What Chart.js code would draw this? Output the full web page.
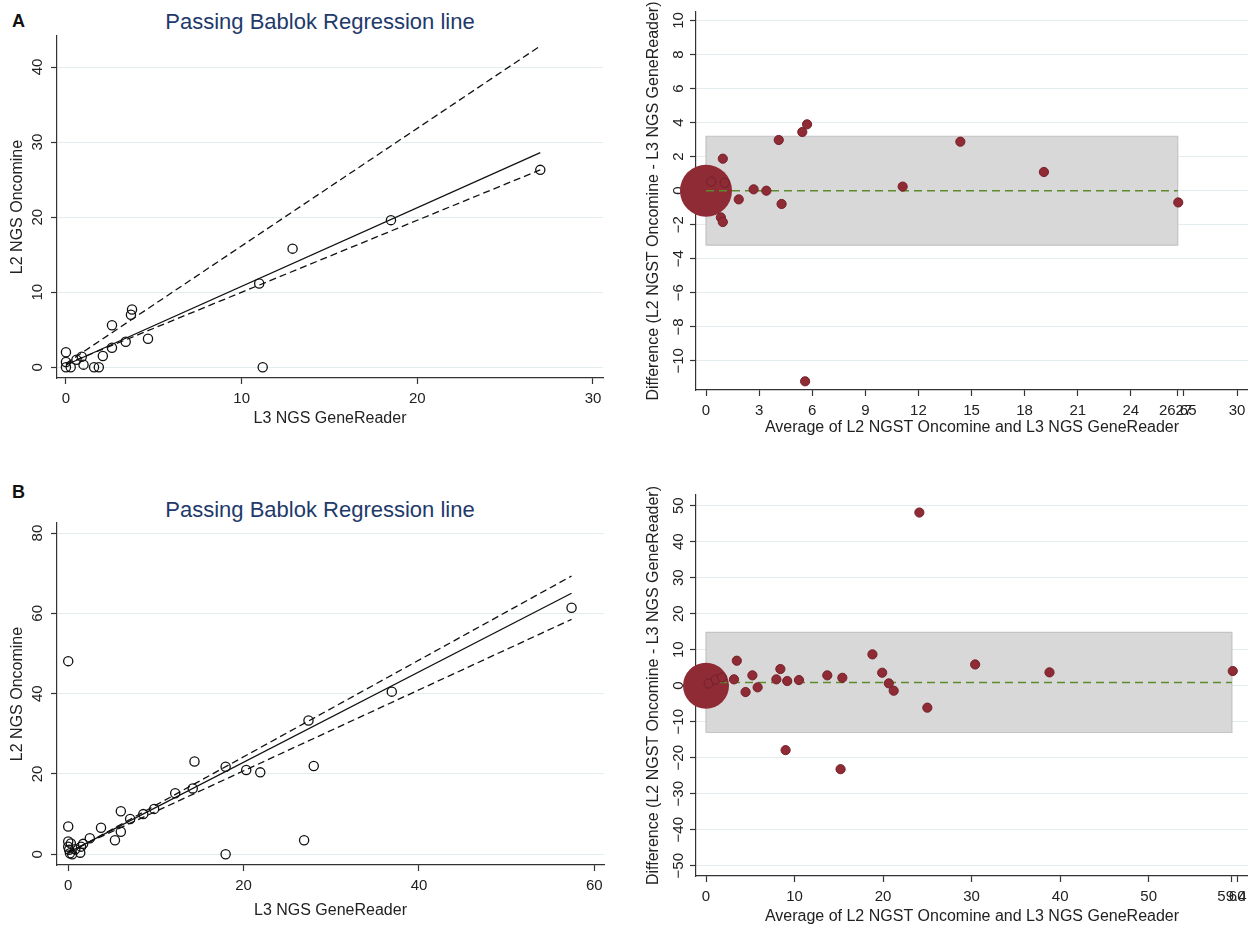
<!DOCTYPE html>
<html>
<head>
<meta charset="utf-8">
<script src="https://cdn.jsdelivr.net/npm/chart.js@4.4.1/dist/chart.umd.min.js"></script>
<style>
    html, body { margin: 0; padding: 0; background: #fff; }
    body { width: 1248px; height: 925px; position: relative; overflow: hidden; font-family: 'Liberation Sans', Arial, sans-serif; }
    canvas { position: absolute; }
    .letter { position: absolute; left: 12px; font-weight: bold; font-size: 18px; color: #111; }
    .title { position: absolute; left: 10px; width: 620px; text-align: center; font-size: 22px; color: #1e3a6b; }
</style>
</head>
<body>
<div class="letter" style="top:11px">A</div>
<div class="title" style="top:9px">Passing Bablok Regression line</div>
<canvas id="fitA" width="620" height="427" style="left:0;top:0"></canvas>
<canvas id="baA" width="608" height="436" style="left:640px;top:0"></canvas>

<div class="letter" style="top:482px">B</div>
<div class="title" style="top:497px">Passing Bablok Regression line</div>
<canvas id="fitB" width="620" height="439" style="left:0;top:480px"></canvas>
<canvas id="baB" width="608" height="445" style="left:640px;top:480px"></canvas>

<script>
// ---- panel A: L3 GeneReader (x) vs L2 Oncomine (y)
const fitAX = [0, 0, 0, 0.27, 0.6, 0.9, 1.0, 1.6, 1.87, 2.1, 2.62, 2.62, 3.4, 3.7, 3.76, 4.67, 11.0, 11.2, 12.9, 18.5, 27.0];
const fitAY = [2.0, 0.7, 0, 0, 1.0, 1.4, 0.35, 0, 0, 1.5, 5.6, 2.6, 3.4, 7.0, 7.7, 3.8, 11.15, 0, 15.8, 19.6, 26.3];
const regAX = [0, 27.0];
const regAFit = [0.3, 28.6];
const regAUpper = [0.5, 42.8];
const regALower = [0.4, 26.3];
const fitAXTicks = [0, 10, 20, 30];
const fitAYTicks = [0, 10, 20, 30, 40];

// ---- panel A: Bland-Altman
const baAX = [0.95, 0.29, 1.06, 0.84, 0.95, 1.85, 2.69, 3.41, 4.11, 4.27, 5.44, 5.71, 5.6, 11.11, 14.37, 19.09, 26.68];
const baAY = [1.88, 0.53, 0.47, -1.57, -1.84, -0.51, 0.08, 0, 2.98, -0.78, 3.45, 3.9, -11.2, 0.24, 2.88, 1.1, -0.69];
const baABubble = [[0, 0]];
const baARange = [0, 26.65];
const baAMean = 0;
const baALimits = [-3.2, 3.2];
const baAXTicks = [0, 3, 6, 9, 12, 15, 18, 21, 24, 26.65, 27, 30];
const baAYTicks = [-10, -8, -6, -4, -2, 0, 2, 4, 6, 8, 10];

// ---- panel B: L3 GeneReader (x) vs L2 Oncomine (y)
const fitBX = [0, 0, 0, 0.3, 0, 0.1, 0.2, 0.45, 0.8, 1.37, 1.46, 1.7, 2.46, 3.74, 5.33, 6.0, 6.0, 7.06, 8.56, 9.8, 12.2, 14.2, 14.4, 17.95, 17.95, 20.3, 21.9, 26.9, 27.4, 28.0, 36.9, 57.4];
const fitBY = [48.1, 6.9, 3.2, 2.7, 1.9, 1.1, 0.25, 0, 1.25, 0.4, 1.9, 2.6, 4.0, 6.6, 3.5, 5.6, 10.7, 8.8, 10.0, 11.3, 15.2, 16.4, 23.1, 21.8, 0, 21.0, 20.4, 3.5, 33.3, 22.0, 40.5, 61.4];
const regBX = [0, 57.4];
const regBFit = [0.4, 65.0];
const regBUpper = [0.2, 69.3];
const regBLower = [0.6, 58.5];
const fitBXTicks = [0, 20, 40, 60];
const fitBYTicks = [0, 20, 40, 60, 80];

// ---- panel B: Bland-Altman
const baBX = [24.1, 3.48, 3.16, 4.47, 5.24, 5.83, 7.95, 8.4, 9.17, 8.99, 10.5, 13.7, 15.4, 15.2, 18.8, 19.9, 20.65, 21.2, 25.0, 30.4, 38.8, 59.5, 0.3, 1.1, 1.8];
const baBY = [48.1, 6.94, 1.76, -1.76, 2.87, -0.46, 1.76, 4.63, 1.3, -17.9, 1.57, 2.87, 2.2, -23.2, 8.7, 3.6, 0.65, -1.39, -6.1, 5.9, 3.7, 4.07, 0.6, 1.7, 2.3];
const baBBubble = [[0, 0]];
const baBRange = [0, 59.4];
const baBMean = 0.9;
const baBLimits = [-13.0, 14.8];
const baBXTicks = [0, 10, 20, 30, 40, 50, 59.4, 60];
const baBYTicks = [-50, -40, -30, -20, -10, 0, 10, 20, 30, 40, 50];

Chart.defaults.font.family = "'Liberation Sans', Arial, sans-serif";
Chart.defaults.color = '#222';

const AXIS = '#333';
const DOT = '#8e2b35';
const minus = (v) => String(v).replace('-', '\u2212');
const points = (xs, ys) => xs.map((x, i) => ({ x, y: ys[i] }));

// stata-like fixed tick lists
const fixTicks = (ticks) => (scale) => {
    scale.ticks = ticks.map((value) => ({ value }));
};

const xAxis = (min, max, ticks, text, height) => ({
    type: 'linear',
    min,
    max,
    afterBuildTicks: fixTicks(ticks),
    afterFit: (s) => {
        s.height = height;
        s.paddingLeft = s.paddingRight = s.paddingTop = s.paddingBottom = 0;
    },
    border: { color: AXIS, width: 1.2 },
    grid: { drawOnChartArea: false, tickLength: 6, tickColor: AXIS, tickWidth: 1.2 },
    ticks: { autoSkip: false, minRotation: 0, maxRotation: 0, padding: 6, font: { size: 15 }, callback: minus },
    title: { display: true, text, padding: 0, font: { size: 16, lineHeight: 1 } },
});

const yAxis = (min, max, ticks, text, width, pad) => ({
    type: 'linear',
    min,
    max,
    afterBuildTicks: fixTicks(ticks),
    afterFit: (s) => {
        s.width = width;
        s.paddingLeft = s.paddingRight = s.paddingTop = s.paddingBottom = 0;
    },
    border: { color: AXIS, width: 1.2 },
    grid: { color: '#e3ecee', lineWidth: 1, tickLength: 6, tickColor: AXIS, tickWidth: 1.2 },
    ticks: { autoSkip: false, minRotation: 90, maxRotation: 90, crossAlign: 'center', padding: pad, font: { size: 15 }, callback: minus },
    title: { display: true, text, padding: 0, font: { size: 16, lineHeight: 1 } },
});

const baseOptions = (padding, x, y) => ({
    responsive: false,
    animation: false,
    events: [],
    layout: { padding, autoPadding: false },
    plugins: { legend: { display: false }, tooltip: { enabled: false } },
    scales: { x, y },
});

const makeFitChart = (id, xs, ys, regX, regFit, regUp, regLo, padding, x, y) => {
    const line = (data, dash) => ({
        data: points(regX, data),
        borderColor: '#111',
        borderWidth: 1.3,
        borderDash: dash,
        pointRadius: 0,
    });
    new Chart(document.getElementById(id), {
        type: 'line',
        data: {
            datasets: [
                {
                    data: points(xs, ys),
                    showLine: false,
                    pointRadius: 4.6,
                    pointBorderWidth: 1.3,
                    pointBorderColor: '#111',
                    pointBackgroundColor: 'rgba(0,0,0,0)',
                    clip: false,
                },
                line(regFit, []),
                line(regUp, [7, 4]),
                line(regLo, [7, 4]),
            ],
        },
        options: baseOptions(padding, x, y),
    });
};

const makeBlandChart = (id, xs, ys, bubble, bubbleRadius, range, mean, limits, padding, x, y) => {
    const [x0, x1] = range;
    const [lo, hi] = limits;
    new Chart(document.getElementById(id), {
        type: 'line',
        data: {
            datasets: [
                {
                    data: points(xs, ys),
                    showLine: false,
                    pointRadius: 4.6,
                    pointBackgroundColor: DOT,
                    pointBorderColor: '#76202a',
                    pointBorderWidth: 1,
                    clip: false,
                },
                {
                    data: points(range, [mean, mean]),
                    borderColor: '#5b8b2a',
                    borderWidth: 1.6,
                    borderDash: [8, 5],
                    pointRadius: 0,
                },
                {
                    data: bubble.map(([bx, by]) => ({ x: bx, y: by })),
                    showLine: false,
                    pointRadius: bubbleRadius,
                    pointBackgroundColor: DOT,
                    pointBorderColor: DOT,
                    pointBorderWidth: 0,
                    clip: false,
                },
                {
                    data: points([x0, x1, x1, x0, x0], [lo, lo, hi, hi, lo]),
                    fill: 'shape',
                    backgroundColor: '#d8d8d8',
                    borderColor: '#c4c4c4',
                    borderWidth: 1.2,
                    pointRadius: 0,
                },
            ],
        },
        options: baseOptions(padding, x, y),
    });
};

makeFitChart('fitA', fitAX, fitAY, regAX, regAFit, regAUpper, regALower,
    { left: 10, top: 36, right: 17, bottom: 0 },
    xAxis(-0.51, 30.57, fitAXTicks, 'L3 NGS GeneReader', 49),
    yAxis(-1.43, 44.13, fitAYTicks, 'L2 NGS Oncomine', 47, 4.5));

makeBlandChart('baA', baAX, baAY, baABubble, 26, baARange, baAMean, baALimits,
    { left: 6, top: 12, right: 0, bottom: 0 },
    xAxis(-0.565, 30.62, baAXTicks, 'Average of L2 NGST Oncomine and L3 NGS GeneReader', 46),
    yAxis(-11.71, 10.5, baAYTicks, 'Difference (L2 NGST Oncomine - L3 NGS GeneReader)', 50, -1.5));

makeFitChart('fitB', fitBX, fitBY, regBX, regBFit, regBUpper, regBLower,
    { left: 10, top: 43, right: 16, bottom: 0 },
    xAxis(-1.28, 61.1, fitBXTicks, 'L3 NGS GeneReader', 54),
    yAxis(-2.67, 82.5, fitBYTicks, 'L2 NGS Oncomine', 47, 4.5));

makeBlandChart('baB', baBX, baBY, baBBubble, 23, baBRange, baBMean, baBLimits,
    { left: 6, top: 15, right: 0, bottom: 0 },
    xAxis(-1.13, 61.22, baBXTicks, 'Average of L2 NGST Oncomine and L3 NGS GeneReader', 49),
    yAxis(-52.86, 52.97, baBYTicks, 'Difference (L2 NGST Oncomine - L3 NGS GeneReader)', 50, -1.5));
</script>
</body>
</html>
